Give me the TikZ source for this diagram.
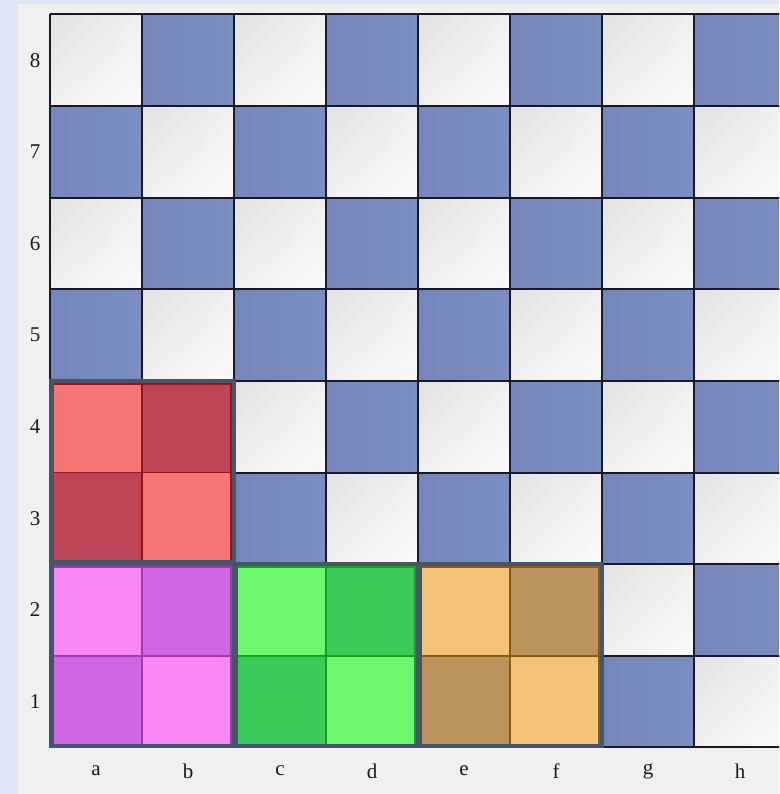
\documentclass[tikz,border=0pt]{standalone}
\usepackage{fontspec}
\setmainfont{Liberation Serif}
\usetikzlibrary{shadings}
\definecolor{outerbg}{HTML}{DCE6F4}
\definecolor{panelbg}{HTML}{F0F0F0}
\definecolor{bluesq}{HTML}{7587BA}
\definecolor{bluesqB}{HTML}{7B8EC1}
\definecolor{lightA}{HTML}{E2E2E2}
\definecolor{lightB}{HTML}{F0F0F0}
\definecolor{lightC}{HTML}{FAFAFA}
\definecolor{gridline}{HTML}{181828}
\definecolor{groupline}{HTML}{465569}
\definecolor{redL}{HTML}{F67575}
\definecolor{redD}{HTML}{BF4659}
\definecolor{redE}{HTML}{A01018}
\definecolor{pinkL}{HTML}{F888F4}
\definecolor{pinkD}{HTML}{CF66E3}
\definecolor{pinkE}{HTML}{A03CA8}
\definecolor{greenL}{HTML}{6EF66E}
\definecolor{greenD}{HTML}{3CCB5A}
\definecolor{greenE}{HTML}{16A01E}
\definecolor{orangeL}{HTML}{F5C378}
\definecolor{orangeD}{HTML}{BB935D}
\definecolor{orangeE}{HTML}{8A5A12}
\tikzset{
  lightsq/.style={upper left=lightA, upper right=lightB, lower left=lightB, lower right=lightC},
  darksq/.style={left color=bluesq, right color=bluesqB},
  gridstyle/.style={draw=gridline, line width=2pt},
  groupbox/.style={draw=groupline, line width=4.5pt},
  lbl/.style={font=\fontsize{21}{24}\selectfont, text=black!90, inner sep=0pt}
}
\begin{document}
\begin{tikzpicture}[x=1pt,y=-1pt]
  \useasboundingbox (0,0) rectangle (779,794);
  \clip (0,0) rectangle (779,794);
  \fill[outerbg] (0,0) rectangle (779,794);
  \fill[panelbg] (18,4) rectangle (790,800);
  % squares
  \foreach \f in {1,...,8}{
    \foreach \r in {1,...,8}{
      \pgfmathsetmacro{\xa}{50+92*(\f-1)}
      \pgfmathsetmacro{\xb}{50+92*\f}
      \pgfmathsetmacro{\ya}{747.3-91.6*\r}
      \pgfmathsetmacro{\yb}{747.3-91.6*(\r-1)}
      \pgfmathtruncatemacro{\pty}{mod(\f+\r,2)}
      \ifnum\pty=0
        \shade[darksq] (\xa,\ya) rectangle (\xb,\yb);
      \else
        \shade[lightsq] (\xa,\ya) rectangle (\xb,\yb);
      \fi
    }
  }
  % grid
  \foreach \i in {0,...,8}{
    \draw[gridstyle] ({50+92*\i},14.5) -- ({50+92*\i},747.3);
    \draw[gridstyle] (50,{14.5+91.6*\i}) -- (786,{14.5+91.6*\i});
  }
  % coloured groups
  \foreach \fx/\ry/\cl/\cd/\ce in {0/3/redL/redD/redE, 0/1/pinkL/pinkD/pinkE, 2/1/greenL/greenD/greenE, 4/1/orangeL/orangeD/orangeE}{
    \pgfmathsetmacro{\xa}{50+92*\fx}
    \pgfmathsetmacro{\xm}{50+92*(\fx+1)}
    \pgfmathsetmacro{\xb}{50+92*(\fx+2)}
    \pgfmathsetmacro{\ya}{747.3-91.6*(\ry+1)}
    \pgfmathsetmacro{\ym}{747.3-91.6*\ry}
    \pgfmathsetmacro{\yb}{747.3-91.6*(\ry-1)}
    \fill[\cl] (\xa,\ya) rectangle (\xm,\ym);
    \fill[\cd] (\xm,\ya) rectangle (\xb,\ym);
    \fill[\cd] (\xa,\ym) rectangle (\xm,\yb);
    \fill[\cl] (\xm,\ym) rectangle (\xb,\yb);
    \draw[\ce, line width=1.6pt] (\xm,\ya) -- (\xm,\yb);
    \draw[\ce, line width=1.6pt] (\xa,\ym) -- (\xb,\ym);
    \draw[\ce, line width=1.6pt] (\xa+3,\ya+3) rectangle (\xb-3,\yb-3);
    \draw[groupbox] (\xa+1.5,\ya) rectangle (\xb,\yb-1.5);
  }
  % rank labels
  \foreach \r in {1,...,8}{
    \node[lbl] (rank\r) at (35,{747.3-91.6*\r+45.8}) {\r};
  }
  \foreach \l [count=\i from 0] in {a,b,c,d,e,f,g,h}{
    \node[lbl] (file\l) at ({96+92*\i},771) {\l};
  }
\end{tikzpicture}
\end{document}
